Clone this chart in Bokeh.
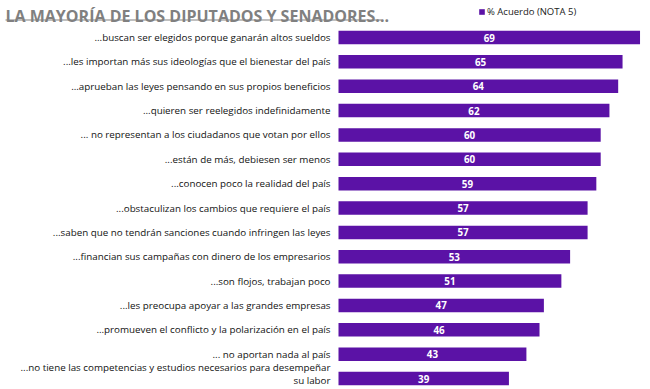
from bokeh.plotting import figure
from bokeh.models import ColumnDataSource, Range1d, Legend, LegendItem
from bokeh.core.properties import value
from bokeh.embed import file_html
from bokeh.resources import INLINE

# ---- data ----
categories = [
    "...buscan ser elegidos porque ganarán altos sueldos",
    "...les importan más sus ideologías que el bienestar del país",
    "...aprueban las leyes pensando en sus propios beneficios",
    "...quieren ser reelegidos indefinidamente",
    "... no representan a los ciudadanos que votan por ellos",
    "...están de más, debiesen ser menos",
    "...conocen poco la realidad del país",
    "...obstaculizan los cambios que requiere el país",
    "...saben que no tendrán sanciones cuando infringen las leyes",
    "...financian sus campañas con dinero de los empresarios",
    "...son flojos, trabajan poco",
    "...les preocupa apoyar a las grandes empresas",
    "...promueven el conflicto y la polarización en el país",
    "... no aportan nada al país",
    "...no tiene las competencias y estudios necesarios para desempeñar\nsu labor",
]
acuerdo = [69, 65, 64, 62, 60, 60, 59, 57, 57, 53, 51, 47, 46, 43, 39]
series_name = "% Acuerdo (NOTA 5)"
title_text = "LA MAYORÍA DE LOS DIPUTADOS Y SENADORES..."

# ---- layout constants ----
W, H = 650, 389
PX_X = 4.37          # px per percentage point
LEFT = 338           # px from figure left to value 0
PX_Y = 24.36         # px per row
TOP_ROW = 37         # px from figure top to first bar centre
n = len(categories)

x0 = -LEFT / PX_X
x1 = x0 + W / PX_X
y1 = (n - 1) + TOP_ROW / PX_Y
y0 = y1 - H / PX_Y

def fy(px):  # px from top -> data y
    return y1 - px / PX_Y

def fx(px):  # px from left -> data x
    return x0 + px / PX_X

BAR = "#5b12a6"

ypos = [n - 1 - i for i in range(n)]
# multi-line labels sit slightly higher than their bar
label_dy = [-5 if "\n" in c else 0 for c in categories]
src = ColumnDataSource(dict(
    cat=categories, val=acuerdo, y=ypos, dy=label_dy,
    mid=[v / 2 for v in acuerdo],
    lbl=[str(v) for v in acuerdo],
))

p = figure(width=W, height=H, output_backend="svg", toolbar_location=None,
           x_range=Range1d(x0, x1), y_range=Range1d(y0, y1),
           x_axis_location=None, y_axis_location=None,
           min_border=0, min_border_left=0, min_border_right=0,
           min_border_top=0, min_border_bottom=0)
p.outline_line_color = None
p.xgrid.visible = False
p.ygrid.visible = False
p.background_fill_color = "white"
p.border_fill_color = "white"

bars = p.hbar(y="y", left=0, right="val", height=13.5 / PX_Y, source=src,
              fill_color=BAR, line_color=None)

p.text(x="mid", y="y", text="lbl", source=src, text_color="white",
       text_font=value("Open Sans"), text_font_size="9.8px", text_font_style="bold",
       text_align="center", text_baseline="middle")

p.text(x=fx(LEFT - 8), y="y", y_offset="dy", text="cat", source=src,
       text_color="#111111",
       text_font=value("Open Sans"), text_font_size="9.8px",
       text_align="right", text_baseline="middle", text_line_height=1.0)

# title with underline
p.text(x=[fx(5)], y=[fy(15.5)], text=[title_text], text_color="#808080",
       text_font=value("Open Sans"), text_font_size="16px", text_font_style="bold",
       text_align="left", text_baseline="alphabetic")
p.segment(x0=[fx(5)], y0=[fy(19.5)], x1=[fx(381)], y1=[fy(19.5)],
          line_color="#808080", line_width=1.2)

legend = Legend(items=[LegendItem(label=series_name, renderers=[bars])],
                location=(478, H - 18), orientation="horizontal",
                glyph_width=7, glyph_height=7, label_standoff=2,
                label_text_font="Open Sans", label_text_font_size="9.5px",
                label_text_color="#222222", padding=0, margin=0, spacing=0,
                border_line_color=None, background_fill_alpha=0,
                label_height=12, label_text_baseline="middle")
p.add_layout(legend, "center")

open("out.html", "w").write(file_html(p, INLINE))
